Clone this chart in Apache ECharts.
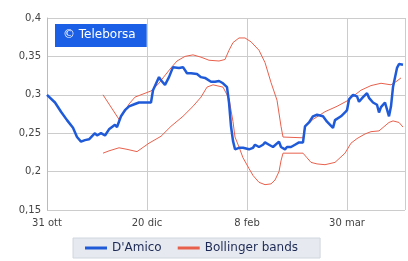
<!DOCTYPE html>
<html>
<head>
<meta charset="utf-8">
<script src="https://cdn.jsdelivr.net/npm/echarts@6/dist/echarts.min.js"></script>
<style>
  html, body { margin: 0; padding: 0; background: #fff; }
  #chart { width: 408px; height: 261px; }
</style>
</head>
<body>
<div id="chart"></div>
<script>
  // giorni dal 31 ott
  var xTicks = {0: '31 ott', 50: '20 dic', 100: '8 feb', 150: '30 mar'};

  var priceDays = [0, 1, 4, 7, 10, 13, 15, 17, 19, 21, 24, 25, 27, 29, 31, 34, 35, 37, 39, 41, 44, 46, 48, 52,
    53, 56, 57, 59, 61, 63, 66, 68, 70, 72, 73, 75, 77, 79, 82, 84, 86, 88, 90, 91, 92, 93, 94, 96, 98, 99,
    101, 103, 104, 106, 108, 109, 111, 113, 114, 116, 117, 119, 120, 122, 124, 126, 128, 129, 131, 133, 135,
    138, 140, 143, 144, 147, 149, 150, 151, 153, 155, 156, 158, 160, 161, 163, 165, 166, 167, 169, 171, 172,
    173, 175, 176, 178];
  var damico = [0.300, 0.298, 0.290, 0.278, 0.267, 0.257, 0.245, 0.239, 0.241, 0.242, 0.250, 0.247, 0.250,
    0.247, 0.255, 0.261, 0.258, 0.272, 0.280, 0.285, 0.288, 0.290, 0.290, 0.290,
    0.306, 0.323, 0.319, 0.313, 0.323, 0.336, 0.335, 0.336, 0.328, 0.328, 0.326, 0.327, 0.323, 0.322, 0.317,
    0.317, 0.318, 0.315, 0.310, 0.290, 0.259, 0.240, 0.229, 0.231, 0.231, 0.229,
    0.229, 0.231, 0.235, 0.232, 0.235, 0.238, 0.235, 0.232, 0.231, 0.239, 0.232, 0.229, 0.232, 0.232, 0.235,
    0.238, 0.238, 0.259, 0.264, 0.272, 0.274,
    0.272, 0.265, 0.257, 0.267, 0.272, 0.277, 0.280, 0.294, 0.300, 0.298, 0.291, 0.297, 0.302, 0.296, 0.290,
    0.287, 0.277, 0.284, 0.290, 0.272, 0.285,
    0.310, 0.335, 0.340, 0.339];

  var upperDays = [28, 31, 36, 39, 41, 44, 52, 56, 58, 62, 65, 69, 73, 77, 81, 86, 89, 91, 93, 96, 99, 102,
    106, 109, 112, 115, 117, 118, 119, 128, 129, 133, 139, 145, 150, 157, 162, 167, 172, 175, 177];
  var upper = [0.300, 0.288, 0.268, 0.278, 0.288, 0.297, 0.305, 0.315, 0.322, 0.335, 0.344, 0.350, 0.352,
    0.349, 0.345, 0.344, 0.346, 0.358, 0.368, 0.374, 0.374, 0.369,
    0.358, 0.342, 0.316, 0.293, 0.259, 0.245, 0.244, 0.244, 0.258, 0.268, 0.278, 0.285, 0.292, 0.306, 0.312,
    0.315, 0.313, 0.318, 0.322];

  var lowerDays = [28, 31, 36, 40, 45, 51, 57, 62, 68, 73, 77, 80, 83, 88, 91, 93, 94, 96, 98, 101, 103, 106,
    109, 112, 114, 116, 117, 118, 119, 128, 130, 132, 135, 139, 144, 149, 152, 155, 159, 162, 166, 171, 173,
    176, 178];
  var lower = [0.224, 0.227, 0.231, 0.229, 0.226, 0.237, 0.246, 0.259, 0.272, 0.285, 0.297, 0.310, 0.313,
    0.310, 0.295, 0.265, 0.245, 0.232, 0.218, 0.204, 0.195, 0.186,
    0.183, 0.184, 0.189, 0.200, 0.214, 0.224, 0.224, 0.224, 0.218, 0.212, 0.210, 0.209, 0.212, 0.224, 0.237,
    0.243, 0.249, 0.252, 0.253, 0.264, 0.266,
    0.264, 0.258];

  function pairs(xs, ys) {
    return xs.map(function (d, i) { return [d, ys[i]]; });
  }

  var myChart = echarts.init(document.getElementById('chart'));
  myChart.setOption({
    animation: false,
    title: {
      text: '© Teleborsa',
      left: 55,
      top: 24,
      padding: [5, 11, 6, 8],
      backgroundColor: '#1b5fe6',
      textStyle: {color: '#fff', fontSize: 12, fontWeight: 'normal', fontFamily: 'DejaVu Sans'}
    },
    legend: {
      data: ["D'Amico", 'Bollinger bands'],
      left: 73,
      top: 238,
      padding: [4, 22, 4, 12],
      itemGap: 16,
      itemWidth: 22,
      itemHeight: 3,
      icon: 'rect',
      backgroundColor: '#e6eaf0',
      borderColor: '#d0d6de',
      borderWidth: 1,
      textStyle: {color: '#1e2a55', fontSize: 12, fontFamily: 'DejaVu Sans'}
    },
    grid: {left: 47, right: 1, top: 18, bottom: 51},
    xAxis: {
      type: 'value',
      min: 0,
      max: 179,
      interval: 50,
      axisLine: {show: false},
      axisTick: {show: false},
      splitLine: {show: true, lineStyle: {color: '#cccccc', width: 1}},
      axisLabel: {
        color: '#444',
        fontSize: 10,
        margin: 8,
        fontFamily: 'DejaVu Sans',
        formatter: function (v) { return xTicks[v] || ''; }
      }
    },
    yAxis: {
      type: 'value',
      min: 0.15,
      max: 0.4,
      interval: 0.05,
      axisLine: {show: true, lineStyle: {color: '#bbbbbb'}},
      axisTick: {show: false},
      splitLine: {lineStyle: {color: '#cccccc', width: 1}},
      axisLabel: {
        color: '#444',
        fontSize: 10,
        margin: 6,
        fontFamily: 'DejaVu Sans',
        formatter: function (v) { return String(+v.toFixed(2)).replace('.', ','); }
      }
    },
    series: [
      {
        name: 'Bollinger bands',
        type: 'line',
        symbol: 'none',
        data: pairs(upperDays, upper),
        lineStyle: {color: '#e8604c', width: 1},
        itemStyle: {color: '#e8604c'}
      },
      {
        name: 'Bollinger bands',
        type: 'line',
        symbol: 'none',
        data: pairs(lowerDays, lower),
        lineStyle: {color: '#e8604c', width: 1},
        itemStyle: {color: '#e8604c'}
      },
      {
        name: "D'Amico",
        type: 'line',
        symbol: 'none',
        data: pairs(priceDays, damico),
        lineStyle: {color: '#1f5ad8', width: 2.5},
        itemStyle: {color: '#1f5ad8'}
      }
    ]
  });
</script>
</body>
</html>
